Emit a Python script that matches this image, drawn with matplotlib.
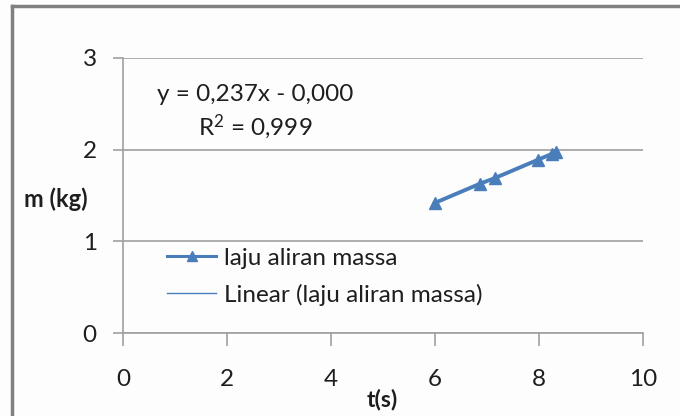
import matplotlib.pyplot as plt
import numpy as np

plt.rcParams['font.family'] = ['Lato', 'DejaVu Sans']
plt.rcParams['mathtext.fontset'] = 'custom'
plt.rcParams['mathtext.rm'] = 'Lato'
plt.rcParams['mathtext.default'] = 'rm'

# measured flow data
t_s = [6.0, 6.87, 7.15, 7.98, 8.25, 8.33]
m_kg = [1.42, 1.63, 1.69, 1.89, 1.955, 1.97]

x_ticks = [0, 2, 4, 6, 8, 10]
y_ticks = [0, 1, 2, 3]

blue = '#4a7ebb'
grey = '#a0a0a0'
ink = '#1e1e1e'

fig = plt.figure(figsize=(6.8, 4.16), dpi=100, facecolor='#fdfdfd')
ax = fig.add_axes([0.181, 0.1995, 0.7646, 0.6611], facecolor='#fdfdfd')

# linear trendline from a least-squares fit
coef = np.polyfit(t_s, m_kg, 1)
tt = np.array([min(t_s), max(t_s)])
ax.plot(t_s, m_kg, color=blue, lw=2.8, marker='^', ms=9, label='laju aliran massa', zorder=3)
ax.plot(tt, np.polyval(coef, tt), color=blue, lw=1, label='Linear (laju aliran massa)', zorder=2)

ax.set_xlim(0, 10)
ax.set_ylim(0, 3)
ax.set_xticks(x_ticks)
ax.set_yticks(y_ticks)
ax.yaxis.grid(True, color=grey, lw=1.2)
ax.set_axisbelow(True)

for s in ['top', 'right']:
    ax.spines[s].set_visible(False)
for s in ['left', 'bottom']:
    ax.spines[s].set_color(grey)
    ax.spines[s].set_linewidth(1.2)

ax.tick_params(axis='x', direction='out', length=9, width=1.2, color=grey, pad=17, labelsize=17.5, labelcolor=ink)
ax.tick_params(axis='y', direction='out', length=7, width=1.2, color=grey, pad=12, labelsize=17.5, labelcolor=ink)

fig.text(382 / 680, 1 - 399 / 416, 't(s)', ha='center', va='center', fontsize=16.5, fontweight='bold', color=ink)
fig.text(56 / 680, 1 - 199 / 416, 'm (kg)', ha='center', va='center', fontsize=17, fontweight='bold', color=ink)

ax.text(2.55, 2.6, 'y = 0,237x - 0,000', ha='center', va='center', fontsize=17.5, color=ink)
ax.text(2.55, 2.25, 'R$^{2}$ = 0,999', ha='center', va='center', fontsize=17.5, color=ink)

leg = ax.legend(loc='upper left', bbox_to_anchor=(0.065, 0.345), frameon=False, fontsize=17.5,
                labelcolor=ink, handlelength=2.05, handletextpad=0.3, labelspacing=0.6,
                borderaxespad=0, markerscale=0.8)
leg.get_lines()[0].set_linewidth(2.2)

# outer chart frame
fig.add_artist(plt.Line2D([0.0176, 0.0176], [0, 0.986], transform=fig.transFigure, color='#808080', lw=2.5))
fig.add_artist(plt.Line2D([0.0176, 1.0], [0.986, 0.986], transform=fig.transFigure, color='#808080', lw=2.5))

fig.savefig('out.png', dpi=100, facecolor=fig.get_facecolor())
